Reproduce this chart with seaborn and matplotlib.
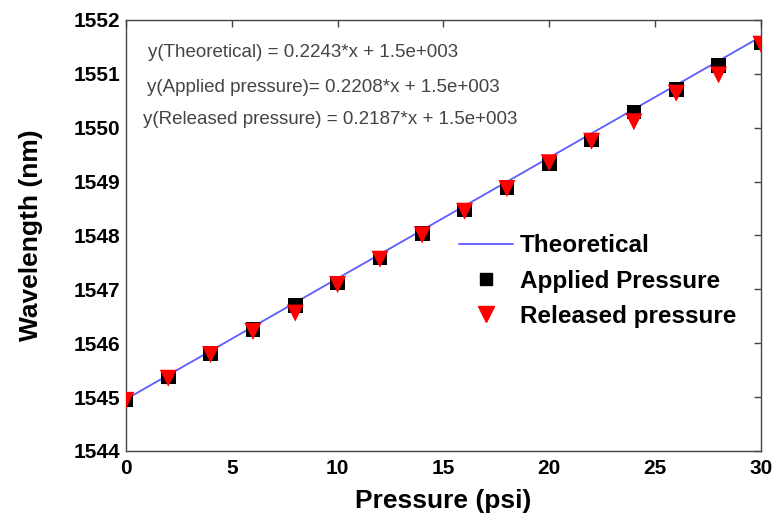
import matplotlib
matplotlib.use("Agg")
import matplotlib.pyplot as plt
import seaborn as sns
import numpy as np
import pandas as pd
from matplotlib.lines import Line2D

# Data
pressure = [0, 2, 4, 6, 8, 10, 12, 14, 16, 18, 20, 22, 24, 26, 28, 30]
applied = [1544.96, 1545.37, 1545.81, 1546.25, 1546.70, 1547.12, 1547.58, 1548.04,
           1548.47, 1548.89, 1549.34, 1549.77, 1550.29, 1550.71, 1551.15, 1551.57]
released = [1544.94, 1545.35, 1545.79, 1546.22, 1546.56, 1547.09, 1547.56, 1548.01,
            1548.45, 1548.87, 1549.35, 1549.75, 1550.11, 1550.64, 1550.98, 1551.55]
theory_x = [0, 30]
theory_y = [1544.96, 1551.69]

equations = [
    "y(Theoretical) = 0.2243*x + 1.5e+003",
    "y(Applied pressure)= 0.2208*x + 1.5e+003",
    "y(Released pressure) = 0.2187*x + 1.5e+003",
]
legend_labels = ["Theoretical", "Applied Pressure", "Released pressure"]

sns.set_style("white")
plt.rcParams["font.family"] = ["Liberation Sans", "DejaVu Sans"]
plt.rcParams["text.color"] = "black"
plt.rcParams["axes.labelcolor"] = "black"
plt.rcParams["xtick.labelcolor"] = "black"
plt.rcParams["ytick.labelcolor"] = "black"

df_app = pd.DataFrame({"p": pressure, "w": applied})
df_rel = pd.DataFrame({"p": pressure, "w": released})
df_th = pd.DataFrame({"p": theory_x, "w": theory_y})

fig = plt.figure(figsize=(7.82, 5.26), dpi=100)
ax = fig.add_axes([0.161, 0.1426, 0.812, 0.8194])

line_color = "#5b5bff"
sns.lineplot(data=df_th, x="p", y="w", ax=ax, color=line_color, lw=1.3, zorder=1)
sns.scatterplot(data=df_app, x="p", y="w", ax=ax, marker="s", color="black",
                s=110, edgecolor="none", zorder=2)
sns.scatterplot(data=df_rel, x="p", y="w", ax=ax, marker="v", color="red",
                s=150, edgecolor="none", zorder=3)

ax.set_xlim(0, 30)
ax.set_ylim(1544, 1552)
ax.set_xticks(np.arange(0, 31, 5))
ax.set_yticks(np.arange(1544, 1553, 1))
ax.tick_params(direction="in", length=5, width=1, top=True, right=True,
               labelsize=15, color="#444", labelcolor="black")
ax.tick_params(axis="x", pad=6)
ax.tick_params(axis="y", pad=4)
for lab in ax.get_xticklabels() + ax.get_yticklabels():
    lab.set_fontweight("bold")
for sp in ax.spines.values():
    sp.set_color("#444")
    sp.set_linewidth(1)

ax.set_xlabel("Pressure (psi)", fontsize=19, fontweight="bold", labelpad=8, color="black")
ax.set_ylabel("Wavelength (nm)", fontsize=19, fontweight="bold", labelpad=22, color="black")

eq_pos = [(0.035, 0.925), (0.033, 0.843), (0.027, 0.768)]
for (tx, ty), txt in zip(eq_pos, equations):
    ax.text(tx, ty, txt, transform=ax.transAxes, fontsize=13.5, color="#444",
            va="center", ha="left")

handles = [
    Line2D([0], [0], color=line_color, lw=1.3),
    Line2D([0], [0], marker="s", color="black", ls="none", markersize=8),
    Line2D([0], [0], marker="v", color="red", ls="none", markersize=11),
]
leg = ax.legend(handles, legend_labels, loc="upper left", bbox_to_anchor=(0.51, 0.525),
                frameon=False, prop={"weight": "bold", "size": 17.5},
                handlelength=2.2, handletextpad=0.3, labelspacing=0.5,
                borderaxespad=0, labelcolor="black")

fig.savefig("out.png", dpi=100)
